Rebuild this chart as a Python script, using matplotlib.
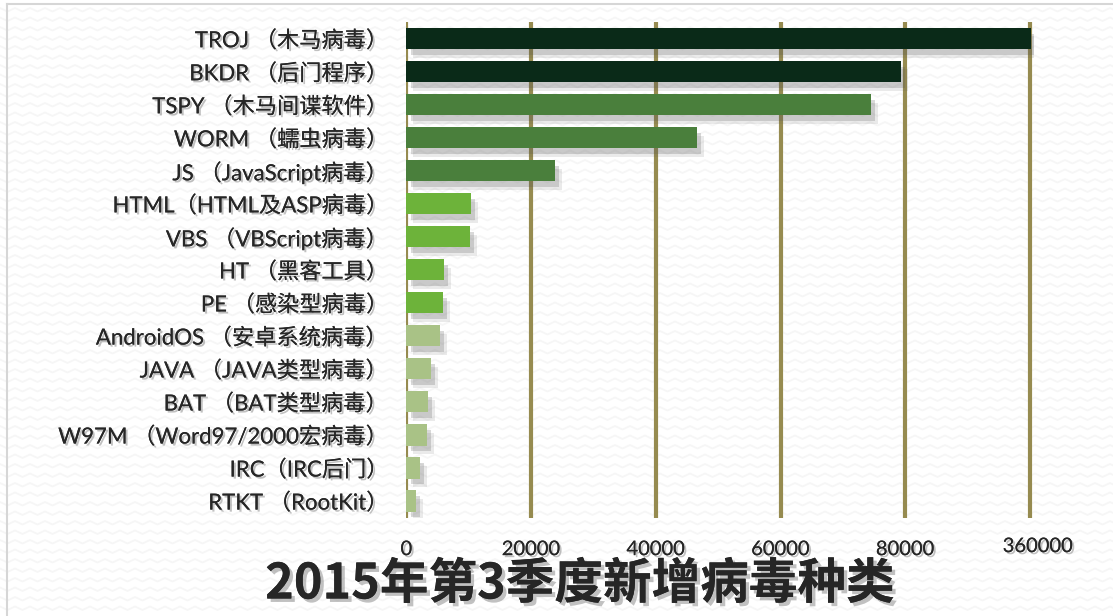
import numpy as np
import matplotlib
matplotlib.use("Agg")
import matplotlib.pyplot as plt
import matplotlib.patheffects as pe
from matplotlib.transforms import ScaledTranslation

# data, top to bottom
labels = ["TROJ （木马病毒）", "BKDR （后门程序）", "TSPY （木马间谍软件）", "WORM （蠕虫病毒）",
          "JS （JavaScript病毒）", "HTML（HTML及ASP病毒）", "VBS （VBScript病毒）", "HT （黑客工具）",
          "PE （感染型病毒）", "AndroidOS （安卓系统病毒）", "JAVA （JAVA类型病毒）", "BAT （BAT类型病毒）",
          "W97M （Word97/2000宏病毒）", "IRC（IRC后门）", "RTKT （RootKit）"]
counts = [362000, 79300, 74500, 46600, 23800, 10350, 10200, 6000, 5900, 5400, 3950, 3500, 3280, 2200, 1550]
tick_values = [0, 20000, 40000, 60000, 80000, 360000]
tick_labels = ["0", "20000", "40000", "60000", "80000", "360000"]
bar_colors = ["#0a2a18"] * 2 + ["#4a7f3c"] * 3 + ["#6db33a"] * 4 + ["#a9c286"] * 6
title = "2015年第3季度新增病毒种类"

BREAK = 80000
SQUEEZE = 14.0  # 80000..360000 drawn in one grid step


def fwd(x):
    x = np.asarray(x, dtype=float)
    return np.where(x <= BREAK, x, BREAK + (x - BREAK) / SQUEEZE)


def inv(y):
    y = np.asarray(y, dtype=float)
    return np.where(y <= BREAK, y, BREAK + (y - BREAK) * SQUEEZE)


W, H = 1113, 616
fig = plt.figure(figsize=(W / 100, H / 100), dpi=100)
fig.patch.set_facecolor("white")

# faint wavy background texture + thin frame
bg = fig.add_axes([0, 0, 1, 1], zorder=-5)
bg.set_xlim(0, W)
bg.set_ylim(H, 0)
bg.axis("off")
xs = np.arange(0, W + 16, 7.5)
zig = np.where(np.arange(len(xs)) % 2 == 0, 0, 3.5)
for y0 in np.arange(8, H, 9.5):
    bg.plot(xs, y0 + zig, color="#f6f6f6", lw=1.3, solid_joinstyle="round")
bg.plot([7, W, W], [4, 4, 4], color="#d6d6d6", lw=1.5)
bg.plot([7, 7], [4, H], color="#d6d6d6", lw=1.5)

left = 406.4 / W
right = 1034.4 / W
top = 1 - 22.2 / H
bottom = 1 - 517.5 / H
ax = fig.add_axes([left, bottom, right - left, top - bottom])
ax.patch.set_alpha(0)
ax.set_xscale("function", functions=(fwd, inv))

y = np.arange(len(labels))
bars = ax.barh(y, counts, height=0.64, color=bar_colors, zorder=3)
for b in bars:
    b.set_path_effects([
        pe.withSimplePatchShadow(offset=(5, -6), shadow_rgbFace="#555555", alpha=0.12),
        pe.withSimplePatchShadow(offset=(3, -4), shadow_rgbFace="#555555", alpha=0.22),
    ])

ax.set_xlim(0, 370000)
ax.set_ylim(len(labels) - 0.5, -0.5)
ax.set_xticks(tick_values)
ax.set_xticklabels(tick_labels)
ax.set_yticks(y)
ax.set_yticklabels(labels)

for s in ax.spines.values():
    s.set_visible(False)
ax.grid(axis="x", color="#968b50", lw=3.0, zorder=1)
ax.grid(axis="y", visible=False)
ax.tick_params(axis="both", length=0)
ax.tick_params(axis="x", pad=17)
ax.tick_params(axis="y", pad=13)

txt_shadow = [pe.withSimplePatchShadow(offset=(1.5, -1.5), shadow_rgbFace="#777777", alpha=0.45), pe.Normal()]
for t in ax.get_yticklabels():
    t.set_fontfamily(["Lato", "Noto Sans CJK SC"])
    t.set_fontsize(16)
    t.set_color("#262626")
    t.set_path_effects(txt_shadow)
for t in ax.get_xticklabels():
    t.set_fontfamily(["Lato", "Noto Sans CJK SC"])
    t.set_fontsize(14.5)
    t.set_color("#262626")
    t.set_path_effects(txt_shadow)
last = ax.get_xticklabels()[-1]
last.set_transform(last.get_transform() + ScaledTranslation(8 / 100, 3 / 100, fig.dpi_scale_trans))

fig.text(580 / W, 1 - 584 / H, title, ha="center", va="center", fontsize=35, fontweight="bold",
         family=["Noto Sans CJK SC", "DejaVu Sans"], color="#262626",
         path_effects=[pe.withSimplePatchShadow(offset=(2.5, -2.5), shadow_rgbFace="#777777", alpha=0.45),
                       pe.Normal()])

fig.savefig("out.png", dpi=100)
